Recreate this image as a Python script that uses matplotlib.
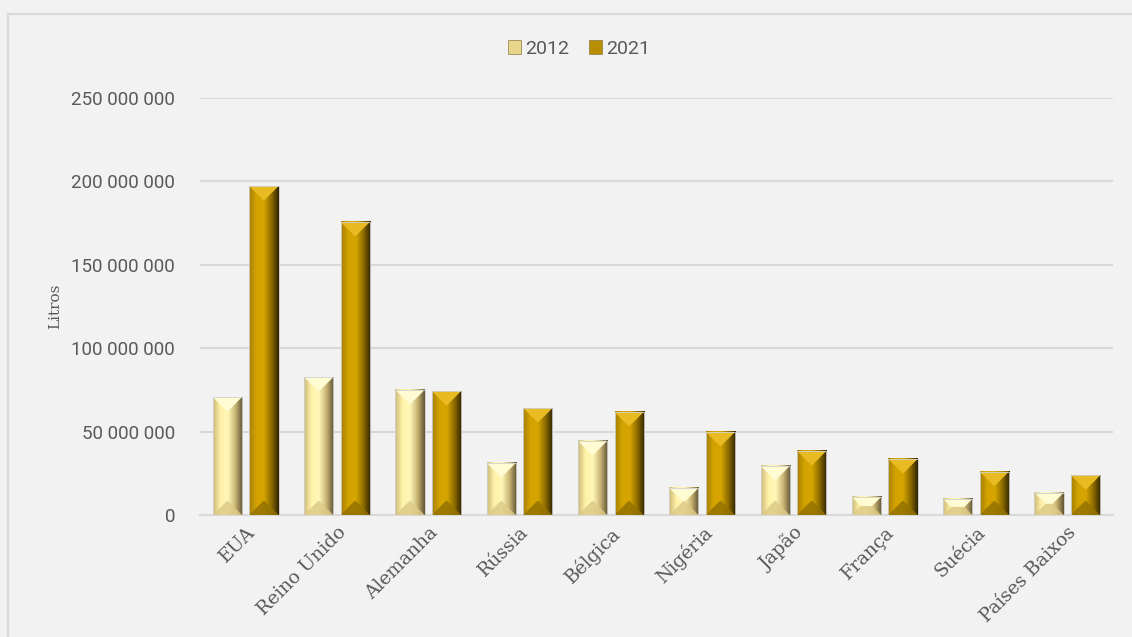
import numpy as np
import matplotlib.pyplot as plt
from matplotlib.colors import LinearSegmentedColormap
from matplotlib.patches import Polygon, Rectangle, Patch
from matplotlib.ticker import FuncFormatter

# Data (litros)
paises = ['EUA', 'Reino Unido', 'Alemanha', 'Rússia', 'Bélgica', 'Nigéria',
          'Japão', 'França', 'Suécia', 'Países Baixos']
litros_2012 = [70.7e6, 82.7e6, 75.0e6, 31.2e6, 44.4e6, 16.2e6, 29.4e6, 10.8e6, 9.6e6, 13.4e6]
litros_2021 = [197.2e6, 175.7e6, 74.3e6, 64.1e6, 61.8e6, 49.8e6, 38.4e6, 33.6e6, 26.0e6, 23.8e6]
anos = ['2012', '2021']

# look of each series: body gradient (left -> center -> right), top face, bottom face
estilos = {
    '2012': dict(grad=['#cdb978', '#fff3a8', '#fff6b8', '#c9b474', '#5e5232'],
                 top='#fffbd2', bottom='#ddca88', legend='#e8d68a'),
    '2021': dict(grad=['#a57f05', '#d4a300', '#d6a500', '#8c6b00', '#2e2300'],
                 top='#e9bb22', bottom='#947200', legend='#b88e00'),
}

bg = '#f2f2f2'
fig = plt.figure(figsize=(11.32, 6.37), dpi=100, facecolor=bg)
# chart area border
fig.patches.append(Rectangle((8 / 1132, -0.1), 1.2, 1 - 14 / 637 + 0.1, transform=fig.transFigure,
                             fill=False, edgecolor='#d9d9d9', lw=1.5))

ax = fig.add_axes([200 / 1132, 1 - 515 / 637, 913 / 1132, 417 / 637])
ax.set_facecolor(bg)

x = np.arange(len(paises))
largura = 0.32
ax.set_xlim(-0.5, len(paises) - 0.5)
ax.set_ylim(0, 250e6)

# data units per pixel, for the bevel
px_x = (len(paises)) / 913
px_y = 250e6 / 417

for serie, valores, desloc in [('2012', litros_2012, -0.2), ('2021', litros_2021, 0.2)]:
    est = estilos[serie]
    cmap = LinearSegmentedColormap.from_list(serie, est['grad'])
    barras = ax.bar(x + desloc, valores, largura, color=est['grad'][1],
                    edgecolor='#c8c8c8', linewidth=0.6, zorder=2)
    grad = np.linspace(0, 1, 256).reshape(1, -1)
    for b in barras:
        x0, y0 = b.get_x(), b.get_y()
        w, h = b.get_width(), b.get_height()
        x1, y1 = x0 + w, y0 + h
        ax.imshow(grad, cmap=cmap, aspect='auto', extent=(x0, x1, y0, y1),
                  zorder=3, interpolation='bilinear')
        # bevel size in pixels
        wp, hp = w / px_x, h / px_y
        d = min(wp / 2, hp / 2, 14)
        dx, dy = d * px_x, d * px_y
        topo = Polygon([(x0, y1), (x1, y1), (x1 - dx, y1 - dy), (x0 + dx, y1 - dy)],
                       closed=True, facecolor=est['top'], edgecolor='none', zorder=4)
        base = Polygon([(x0, y0), (x1, y0), (x1 - dx, y0 + dy), (x0 + dx, y0 + dy)],
                       closed=True, facecolor=est['bottom'], edgecolor='none', zorder=4, alpha=0.85)
        ax.add_patch(topo)
        ax.add_patch(base)
        ax.add_patch(Rectangle((x0, y0), w, h, fill=False, edgecolor='#d0d0d0', lw=0.6, zorder=5))

# grid and axes
ax.set_yticks(np.arange(0, 250e6 + 1, 50e6))
ax.yaxis.set_major_formatter(FuncFormatter(lambda v, p: f'{int(v):,}'.replace(',', ' ')))
ax.grid(axis='y', color='#d9d9d9', lw=1.5, zorder=0)
ax.set_axisbelow(True)
for s in ['top', 'right', 'left']:
    ax.spines[s].set_visible(False)
ax.spines['bottom'].set_color('#d9d9d9')
ax.spines['bottom'].set_linewidth(1.5)
ax.tick_params(axis='both', length=0)
ax.tick_params(axis='y', labelsize=13.5, labelcolor='#595959', pad=18)
for lbl in ax.get_yticklabels():
    lbl.set_family('Roboto')

ax.set_xticks(x)
ax.set_xticklabels(paises, rotation=45, ha='right', rotation_mode='anchor',
                   fontsize=13.5, color='#595959', family='DejaVu Serif')
ax.tick_params(axis='x', pad=6)

ax.set_ylabel('Litros', fontsize=11, color='#595959', family='DejaVu Serif')
ax.yaxis.set_label_coords(-0.151, 0.5)

handles = [Patch(facecolor=estilos[a]['legend'], edgecolor='#8a7a40', lw=0.5) for a in anos]
leg = fig.legend(handles, anos, loc='center', bbox_to_anchor=(579 / 1132, 1 - 49 / 637), ncol=2,
                 frameon=False, handlelength=0.7, handleheight=0.7,
                 handletextpad=0.2, columnspacing=1.0, prop={'family': 'Roboto', 'size': 14})
for t in leg.get_texts():
    t.set_color('#595959')

fig.savefig('out.png', dpi=100, facecolor=bg)
